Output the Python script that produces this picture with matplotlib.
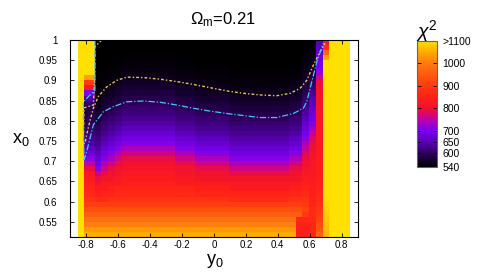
import numpy as np
import matplotlib.pyplot as plt
from matplotlib.colors import LinearSegmentedColormap

plt.rcParams['font.family'] = ['Liberation Sans', 'DejaVu Sans']
plt.rcParams['mathtext.fontset'] = 'custom'
plt.rcParams['mathtext.rm'] = 'Liberation Sans'
plt.rcParams['mathtext.it'] = 'Liberation Sans:italic'
plt.rcParams['axes.unicode_minus'] = False

# map grid: 40 cells along y0 (horizontal) and 40 along x0 (vertical)
y0_edges = np.concatenate([[-0.85, -0.815], np.linspace(-0.745, 0.6375, 34),
                           [0.68, 0.7225, 0.765, 0.8075, 0.85]])
x0_edges = np.linspace(0.5, 1.0, 41)

# chi^2 along x0 (bottom -> top) in the flat middle of the map
chi2_profile = [1065, 1050, 1030, 1005, 980, 955, 930, 905, 885, 868,
                855, 845, 835, 825, 815, 805, 790, 765, 735, 710,
                690, 672, 655, 640, 628, 618, 608, 598, 588, 578,
                570, 563, 557, 552, 548, 545, 543, 542, 541, 540]

# how many rows each column's pattern is moved, and how much each row follows it
row_shift = [0, 0, -5, -3, -2, -1, 0, 0, 0, 0,
             0, 0, 0, 0, -1, -1, -1, -2, -2, -2,
             -2, -2, -3, -3, -3, -3, -3, -3, -3, -3,
             -3, -2, -2, 0, 0, 0, 0, 0, 0, 0]
row_follow = [0, 0, 0, 0, 0, 0, 0, 0, 0.2, 0.35,
              0.5, 0.65, 0.8, 0.9] + [1] * 26

# edge columns read by hand (bottom -> top)
col_01 = [1065, 1050, 1030, 1005, 980, 955, 930, 905, 885, 868,
          855, 845, 835, 820, 790, 750, 710, 680, 655, 638,
          625, 615, 605, 598, 592, 588, 588, 600, 640, 700,
          820, 900, 1040, 1100, 1100, 1100, 1100, 1100, 1100, 1100]
col_33 = [850, 845, 845, 850, 860, 900, 915, 900, 885, 868,
          855, 845, 835, 825, 815, 805, 795, 780, 760, 735,
          712, 695, 680, 665, 652, 640, 628, 615, 603, 592,
          582, 573, 565, 558, 553, 549, 546, 544, 542, 541]
col_34 = [870, 860, 855, 858, 865, 870, 865, 858, 850, 845,
          840, 836, 832, 828, 824, 820, 815, 808, 800, 790,
          775, 755, 730, 705, 690, 678, 668, 658, 645, 630,
          615, 600, 588, 576, 566, 558, 553, 549, 546, 544]
col_35 = [980, 960, 940, 925, 910, 900, 890, 880, 870, 862,
          855, 850, 846, 843, 840, 838, 836, 834, 832, 830,
          828, 826, 824, 822, 820, 818, 816, 814, 812, 810,
          805, 790, 760, 720, 700, 690, 680, 670, 660, 650]
col_36 = [1050, 1060, 1065, 1070, 1075, 1080, 1085, 1090, 1095] + [1100] * 27 + [1040, 960, 880, 820]
patch_32 = [850, 845, 845, 850, 860]

# contour lines
cyan_y0 = [-0.744, -0.744, -0.754, -0.817, -0.815, -0.812, -0.796, -0.754, -0.692, -0.629,
           -0.545, -0.441, -0.337, -0.232, -0.128, -0.024, 0.081, 0.184, 0.289, 0.393,
           0.497, 0.56, 0.581, 0.613, 0.644, 0.685]
cyan_x0 = [1.0, 0.875, 0.872, 0.847, 0.76, 0.703, 0.723, 0.79, 0.822, 0.835,
           0.847, 0.849, 0.846, 0.839, 0.831, 0.824, 0.818, 0.813, 0.808, 0.808,
           0.818, 0.831, 0.847, 0.897, 0.946, 0.992]
yell_y0 = [-0.702, -0.744, -0.746, -0.754, -0.812, -0.817, -0.806, -0.796, -0.775, -0.754,
           -0.723, -0.67, -0.608, -0.545, -0.441, -0.337, -0.232, -0.128, -0.024, 0.081,
           0.184, 0.289, 0.393, 0.477, 0.539, 0.581, 0.623, 0.665, 0.696]
yell_x0 = [1.0, 0.983, 0.9, 0.839, 0.832, 0.744, 0.744, 0.765, 0.80, 0.831,
           0.86, 0.884, 0.90, 0.908, 0.907, 0.903, 0.897, 0.89, 0.882, 0.874,
           0.868, 0.864, 0.862, 0.868, 0.88, 0.90, 0.938, 0.971, 0.992]

cbar_ticks = [540, 600, 650, 700, 800, 900, 1000, 1100]
cbar_labels = ['540', '600', '650', '700', '800', '900', '1000', '>1100']
y0_ticks = [-0.8, -0.6, -0.4, -0.2, 0, 0.2, 0.4, 0.6, 0.8]
y0_labels = ['-0.8', '-0.6', '-0.4', '-0.2', '0', '0.2', '0.4', '0.6', '0.8']
x0_ticks = [0.55, 0.6, 0.65, 0.7, 0.75, 0.8, 0.85, 0.9, 0.95, 1.0]
x0_labels = ['0.55', '0.6', '0.65', '0.7', '0.75', '0.8', '0.85', '0.9', '0.95', '1']

# build the map
profile = np.array(chi2_profile)
rows = np.arange(40)
follow = np.array(row_follow)
chi2 = np.empty((40, 40))
for j, s in enumerate(row_shift):
    src = np.clip(rows - np.round(s * follow).astype(int), 0, 39)
    chi2[:, j] = profile[src]
chi2[:, 0] = 1100
chi2[:, 1] = col_01
chi2[:5, 32] = patch_32
chi2[:, 33] = col_33
chi2[:, 34] = col_34
chi2[:, 35] = col_35
chi2[:, 36] = col_36
chi2[:, 37:] = 1100

cmap = LinearSegmentedColormap.from_list('chi2', [
    (0.0, '#000000'), (0.06, '#1a0038'), (0.107, '#300060'), (0.196, '#5a00b8'),
    (0.286, '#7a00f0'), (0.375, '#c000a8'), (0.464, '#f01030'), (0.55, '#ff2018'),
    (0.643, '#ff3a10'), (0.821, '#ff7a10'), (0.91, '#ffa800'), (1.0, '#ffe000')])

fig = plt.figure(figsize=(4.8, 2.73), dpi=100)
ax = fig.add_axes([70 / 480, 1 - 236.7 / 273, 287.7 / 480, 196.7 / 273])
mesh = ax.pcolormesh(y0_edges, x0_edges, chi2, cmap=cmap, vmin=540, vmax=1100)
ax.plot(yell_y0, yell_x0, color='#e0c850', lw=1.0, ls=(0, (2, 1.5, 1, 1.5)))
ax.plot(cyan_y0, cyan_x0, color='#40c8f0', lw=0.9, ls=(0, (5, 1.5, 1, 1.5)))
ax.set_xlim(-0.9, 0.9)
ax.set_ylim(0.513, 1.0)
ax.set_xticks(y0_ticks, y0_labels)
ax.set_yticks(x0_ticks, x0_labels)
ax.tick_params(direction='in', length=3, width=0.6, top=True, right=True, labelsize=7)
ax.tick_params(axis='x', pad=2.5)
ax.tick_params(axis='y', pad=9)
for sp in ax.spines.values():
    sp.set_linewidth(0.8)

fig.text(223 / 480, 1 - 20 / 273, r'$\Omega_{\rm m}$=0.21', ha='center', va='center', fontsize=12)
fig.text(21 / 480, 1 - 140 / 273, r'x$_0$', ha='center', va='center', fontsize=13)
fig.text(215 / 480, 1 - 261 / 273, r'y$_0$', ha='center', va='center', fontsize=13)

cax = fig.add_axes([417 / 480, 1 - 166.7 / 273, 20 / 480, 126 / 273])
cb = fig.colorbar(mesh, cax=cax, ticks=cbar_ticks)
cb.set_ticklabels(cbar_labels)
cb.outline.set_edgecolor('#666655')
cb.outline.set_linewidth(0.8)
cax.tick_params(direction='in', length=3, width=0.6, left=True, right=True,
                labelsize=7.5, pad=4)
fig.text(427 / 480, 1 - 31 / 273, r'$\chi^2$', ha='center', va='center', fontsize=14)

fig.savefig('out.png', dpi=100)
